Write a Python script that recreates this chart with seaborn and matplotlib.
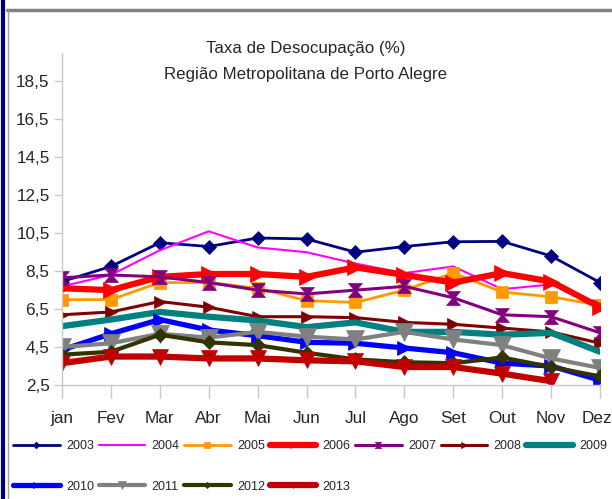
import numpy as np
import pandas as pd
import matplotlib
matplotlib.use("Agg")
import matplotlib.pyplot as plt
from matplotlib.lines import Line2D
from matplotlib import font_manager
from matplotlib.transforms import ScaledTranslation
import seaborn as sns

months = ["jan", "Fev", "Mar", "Abr", "Mai", "Jun", "Jul", "Ago", "Set", "Out", "Nov", "Dez"]
years = ["2003", "2004", "2005", "2006", "2007", "2008", "2009", "2010", "2011", "2012", "2013"]
y2003 = [7.95, 8.75, 10.0, 9.8, 10.25, 10.2, 9.5, 9.8, 10.05, 10.07, 9.3, 7.9]
y2004 = [7.7, 8.3, 9.6, 10.6, 9.75, 9.5, 8.9, 8.4, 8.75, 7.55, 7.8, 6.7]
y2005 = [7.0, 7.0, 7.9, 7.9, 7.6, 6.95, 6.85, 7.5, 8.4, 7.4, 7.15, 6.7]
y2006 = [7.6, 7.5, 8.2, 8.35, 8.35, 8.2, 8.7, 8.3, 7.9, 8.4, 7.95, 6.6]
y2007 = [8.15, 8.3, 8.2, 7.9, 7.5, 7.3, 7.5, 7.7, 7.1, 6.2, 6.1, 5.25]
y2008 = [6.2, 6.35, 6.9, 6.6, 6.1, 6.1, 6.05, 5.8, 5.7, 5.5, 5.3, 4.7]
y2009 = [5.6, 5.95, 6.35, 6.1, 5.9, 5.55, 5.8, 5.3, 5.3, 5.15, 5.25, 4.25]
y2010 = [4.35, 5.2, 5.95, 5.4, 5.1, 4.75, 4.7, 4.45, 4.2, 3.65, 3.5, 2.75]
y2011 = [4.5, 4.7, 5.2, 5.0, 5.3, 5.05, 4.9, 5.3, 4.9, 4.6, 3.9, 3.4]
y2012 = [4.1, 4.25, 5.15, 4.75, 4.6, 4.2, 3.85, 3.7, 3.65, 3.95, 3.45, 2.95]
y2013 = [3.65, 4.0, 4.0, 3.9, 3.9, 3.8, 3.75, 3.45, 3.45, 3.1, 2.7, np.nan]
yticks = [2.5, 4.5, 6.5, 8.5, 10.5, 12.5, 14.5, 16.5, 18.5]

series = [y2003, y2004, y2005, y2006, y2007, y2008, y2009, y2010, y2011, y2012, y2013]
colors = ["#000080", "#FF00FF", "#FF9900", "#FF0000", "#800080", "#800000",
          "#008080", "#0000FF", "#808080", "#333300", "#C00000"]
hourglass = [(-1, 1), (1, 1), (0.12, 0), (1, -1), (-1, -1), (-0.12, 0), (-1, 1)]
markers = ["D", None, "s", ">", hourglass, ">", None, ">", "v", "D", "v"]
msizes = [7.5, 0, 9, 11, 10, 9, 0, 10, 13, 7, 11]
lwidths = [2.0, 1.5, 2.0, 4.5, 2.2, 2.2, 4.5, 3.8, 3.0, 3.0, 4.5]

sns.set_style("white")

# prefer a narrow face if one is installed, otherwise regular Liberation Sans
narrow = None
for f in font_manager.fontManager.ttflist:
    if "Liberation Sans Narrow" in f.name:
        narrow = f.name
        break
if narrow:
    plt.rcParams["font.family"] = [narrow, "Liberation Sans", "DejaVu Sans"]
    tick_fs, leg_fs, title_fs = 13.5, 10, 13
else:
    plt.rcParams["font.family"] = ["Liberation Sans", "DejaVu Sans"]
    tick_fs, leg_fs, title_fs = 12.3, 9, 12.2

fig = plt.figure(figsize=(6.12, 4.99), dpi=100)
ax = fig.add_axes([62 / 612, 1 - 385 / 499, (600 - 62) / 612, (385 - 53) / 499])

for yr, vals, c, m, ms, lw in zip(years, series, colors, markers, msizes, lwidths):
    df = pd.DataFrame({"mes": months, "taxa": vals})
    kw = dict(color=c, linewidth=lw, label=yr)
    if m is not None:
        kw.update(marker=m, markersize=ms, markeredgecolor=c, markerfacecolor=c, markeredgewidth=0.5)
    sns.lineplot(data=df, x="mes", y="taxa", ax=ax, sort=False, **kw)

ax.set_xlim(0, 11)
ax.set_ylim(2.5, 20)
ax.set_yticks(yticks)
ax.set_yticklabels([f"{v:.1f}".replace(".", ",") for v in yticks])
ax.set_xticks(range(len(months)))
ax.set_xticklabels(months)
ax.set_xlabel("")
ax.set_ylabel("")
for s in ["top", "right"]:
    ax.spines[s].set_visible(False)
for s in ["left", "bottom"]:
    ax.spines[s].set_color("#c8c8c8")
    ax.spines[s].set_linewidth(1.0)
ax.tick_params(axis="y", which="both", left=True, length=6, width=1, color="#c8c8c8",
               labelsize=tick_fs, pad=3, direction="out")
ax.tick_params(axis="x", which="both", bottom=True, length=9, width=1, color="#c8c8c8",
               labelsize=tick_fs, pad=10, direction="out")
ax.grid(False)

# keep the last month label inside the picture, as in the reference
last = ax.get_xticklabels()[-1]
last.set_transform(last.get_transform() + ScaledTranslation(-3 / 100, 0, fig.dpi_scale_trans))

handles, labels = ax.get_legend_handles_labels()
if ax.get_legend() is not None:
    ax.get_legend().remove()
order = [0, 7, 1, 8, 2, 9, 3, 10, 4, 5, 6]
fig.legend([handles[i] for i in order], [labels[i] for i in order], ncol=7,
           loc="upper left", bbox_to_anchor=(13 / 612, 1 - 440 / 499),
           frameon=False, fontsize=leg_fs, handlelength=3.75, handletextpad=0.5,
           columnspacing=0.35, labelspacing=2.3, markerscale=0.45, borderpad=0,
           borderaxespad=0)

fig.text(0.5, 1 - 48 / 499, "Taxa de Desocupação (%)", ha="center", va="center", fontsize=title_fs)
fig.text(0.5, 1 - 75 / 499, "Região Metropolitana de Porto Alegre", ha="center", va="center",
         fontsize=title_fs)

fig.add_artist(Line2D([2.5 / 612, 2.5 / 612], [0, 1], transform=fig.transFigure,
                      color="#000080", linewidth=3))
fig.add_artist(Line2D([7 / 612, 1], [1 - 10 / 499, 1 - 10 / 499], transform=fig.transFigure,
                      color="#808080", linewidth=2.5))
fig.add_artist(Line2D([7.5 / 612, 7.5 / 612], [0, 1 - 10 / 499], transform=fig.transFigure,
                      color="#a0a0a0", linewidth=1))

fig.savefig("out.png", dpi=100)
